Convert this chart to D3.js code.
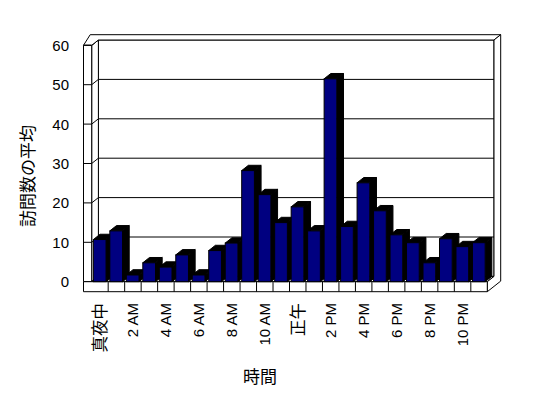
<!DOCTYPE html>
<html>
<head>
<meta charset="utf-8">
<script src="https://cdn.jsdelivr.net/npm/d3@7"></script>
<style>
  body { margin: 0; background: #fff; }
  text { font-family: "Liberation Sans", "Noto Sans CJK JP", sans-serif; fill: #000; }
</style>
</head>
<body>
<svg id="chart" width="548" height="398"></svg>
<script>
/* data */
const hours = ["真夜中", "1 AM", "2 AM", "3 AM", "4 AM", "5 AM", "6 AM", "7 AM", "8 AM", "9 AM", "10 AM", "11 AM",
  "正午", "1 PM", "2 PM", "3 PM", "4 PM", "5 PM", "6 PM", "7 PM", "8 PM", "9 PM", "10 PM", "11 PM"]
const visits = [10.7, 12.9, 1.7, 4.8, 3.7, 6.8, 1.7, 7.9, 9.8, 28.2, 22.1, 15.0,
  19.0, 12.9, 51.5, 14.0, 25.1, 18.0, 11.9, 9.9, 4.8, 10.9, 8.9, 9.9]
const yTicks = [0, 10, 20, 30, 40, 50, 60]
const xTitle = "時間"
const yTitle = "訪問数の平均"

/* layout of the box (front plane) and the depth step */
const plotLeft = 91.7, plotRight = 487.3, plotTop = 45.3, plotBase = 281.7
const dx = 6.7, dy = -5.3
const wallW = 8.2, floorH = 10
const barColor = "#000080"

const svg = d3.select("#chart")

const x = d3.scaleBand().domain(d3.range(hours.length)).range([plotLeft, plotRight])
const y = d3.scaleLinear([0, 60], [plotBase, plotTop])
const bw = x.bandwidth()

const poly = pts => "M" + pts.map(p => p.join(",")).join("L") + "Z"

function shape(d, fill) {
  return svg.append("path")
  .attr("d", d)
  .attr("fill", fill)
  .attr("stroke", "#000")
  .attr("stroke-width", 1)
  .attr("stroke-linejoin", "miter")
}

/* back wall and its gridlines */
shape(poly([[plotLeft + dx, plotTop + dy], [plotRight + dx, plotTop + dy],
  [plotRight + dx, plotBase + dy], [plotLeft + dx, plotBase + dy]]), "#fff")

svg.append("g")
.selectAll("line")
.data(yTicks.filter(v => v > 0 && v < 60))
.join("line")
.attr("x1", plotLeft + dx)
.attr("x2", plotRight + dx)
.attr("y1", d => y(d) + dy)
.attr("y2", d => y(d) + dy)
.attr("stroke", "#000")

/* left wall inner face */
shape(poly([[plotLeft, plotTop], [plotLeft + dx, plotTop + dy],
  [plotLeft + dx, plotBase + dy], [plotLeft, plotBase]]), "#fff")

svg.append("g")
.selectAll("line")
.data(yTicks)
.join("line")
.attr("x1", plotLeft)
.attr("x2", plotLeft + dx)
.attr("y1", d => y(d))
.attr("y2", d => y(d) + dy)
.attr("stroke", "#000")

/* floor top */
shape(poly([[plotLeft, plotBase], [plotLeft + dx, plotBase + dy],
  [plotRight + dx, plotBase + dy], [plotRight, plotBase]]), "#fff")

/* top edges of the walls */
shape(poly([[plotLeft - wallW, plotTop], [plotLeft, plotTop], [plotLeft + dx, plotTop + dy],
  [plotRight + dx, plotTop + dy], [plotRight + 2 * dx, plotTop + 2 * dy],
  [plotLeft - wallW + dx, plotTop + 2 * dy]]), "#fff")

/* right side of back wall + floor */
shape(poly([[plotRight + dx, plotTop + dy], [plotRight + 2 * dx, plotTop + 2 * dy],
  [plotRight + 2 * dx, plotBase + floorH + 2 * dy], [plotRight, plotBase + floorH],
  [plotRight, plotBase], [plotRight + dx, plotBase + dy]]), "#fff")

/* left wall front face and front ticks */
shape(poly([[plotLeft - wallW, plotTop], [plotLeft, plotTop],
  [plotLeft, plotBase], [plotLeft - wallW, plotBase]]), "#fff")

svg.append("g")
.selectAll("line")
.data(yTicks)
.join("line")
.attr("x1", plotLeft - wallW)
.attr("x2", plotLeft)
.attr("y1", d => y(d))
.attr("y2", d => y(d))
.attr("stroke", "#000")

/* floor front face with category dividers */
shape(poly([[plotLeft - wallW, plotBase], [plotRight, plotBase],
  [plotRight, plotBase + floorH], [plotLeft - wallW, plotBase + floorH]]), "#fff")

svg.append("g")
.selectAll("line")
.data(d3.range(1, hours.length))
.join("line")
.attr("x1", d => x(d))
.attr("x2", d => x(d))
.attr("y1", plotBase)
.attr("y2", plotBase + floorH)
.attr("stroke", "#000")

/* bars */
const bar = svg.append("g")
.selectAll("g")
.data(visits.map((v, i) => ({ v, i })))
.join("g")

const xl = d => x(d.i) + bw * 0.1
const xr = d => x(d.i) + bw * 0.87

bar.append("path")
.attr("fill", "#000")
.attr("stroke", "#000")
.attr("d", d => poly([[xr(d), y(d.v)], [xr(d) + dx, y(d.v) + dy], [xr(d) + dx, plotBase + dy], [xr(d), plotBase]]))

bar.append("path")
.attr("fill", "#000")
.attr("stroke", "#000")
.attr("d", d => poly([[xl(d), y(d.v)], [xl(d) + dx, y(d.v) + dy], [xr(d) + dx, y(d.v) + dy], [xr(d), y(d.v)]]))

bar.append("rect")
.attr("x", xl)
.attr("y", d => y(d.v))
.attr("width", d => xr(d) - xl(d))
.attr("height", d => plotBase - y(d.v))
.attr("fill", barColor)
.attr("stroke", "#000")

/* y tick labels */
svg.append("g")
.selectAll("text")
.data(yTicks)
.join("text")
.attr("x", 69)
.attr("y", d => y(d))
.attr("dy", "0.36em")
.attr("text-anchor", "end")
.attr("font-size", 15)
.text(d => d)

/* x tick labels, every second hour */
svg.append("g")
.selectAll("text")
.data(d3.range(0, hours.length, 2))
.join("text")
.attr("transform", d => `translate(${x(d) + bw / 2}, 303) rotate(-90)`)
.attr("dy", "0.36em")
.attr("text-anchor", "end")
.attr("font-size", d => /[^\x00-\x7f]/.test(hours[d]) ? 16.5 : 15)
.text(d => hours[d])

/* axis titles */
svg.append("text")
.attr("transform", "translate(28, 176) rotate(-90)")
.attr("dy", "0.36em")
.attr("text-anchor", "middle")
.attr("font-size", 17)
.text(yTitle)

svg.append("text")
.attr("x", 260)
.attr("y", 377)
.attr("dy", "0.36em")
.attr("text-anchor", "middle")
.attr("font-size", 17)
.text(xTitle)
</script>
</body>
</html>
